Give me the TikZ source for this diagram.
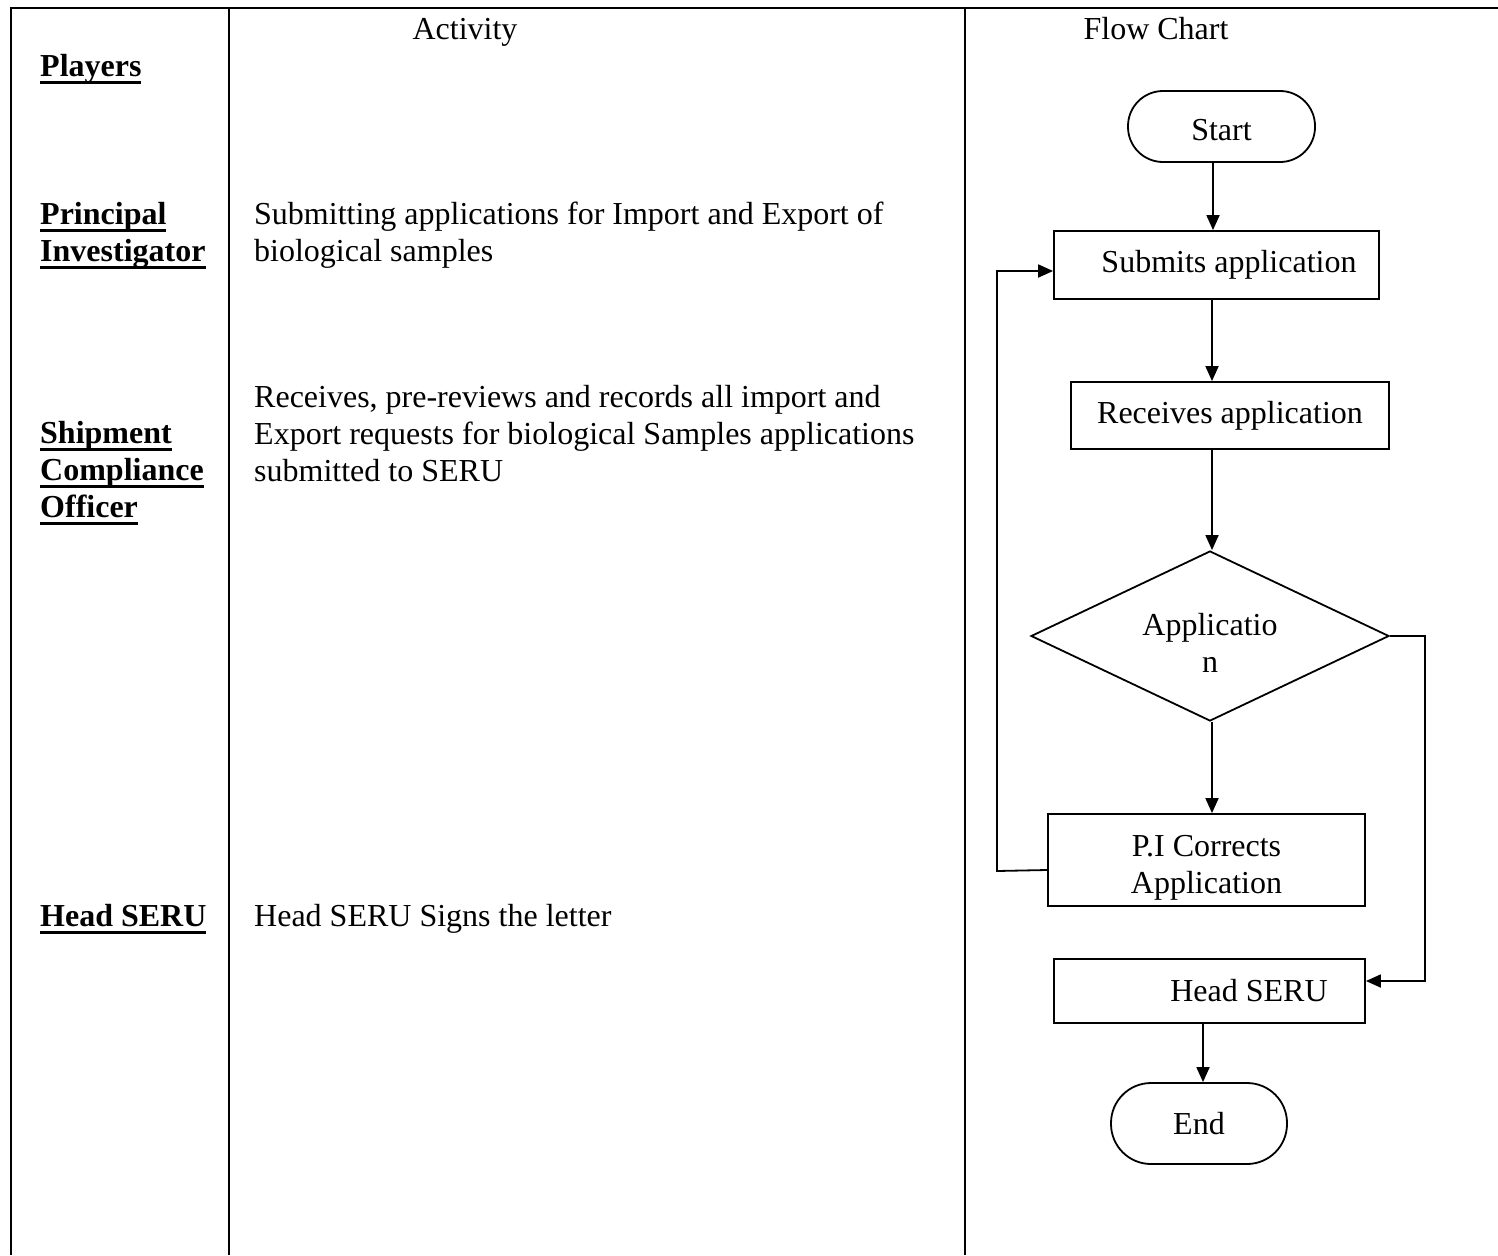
\documentclass[tikz,border=0pt]{standalone}
\usepackage{fontspec}
\setmainfont{Liberation Serif}
\usetikzlibrary{arrows.meta,shapes.geometric}
\newcommand\fsz{\fontsize{32}{37}\selectfont}
\newcommand\myul[1]{\sbox0{#1}\rlap{\rule[-8pt]{\wd0}{3pt}}\usebox0}
\newcommand\tallstrut[1]{\rule{0pt}{#1}}
\begin{document}
\begin{tikzpicture}[x=1pt,y=-1pt,
  grid/.style={line width=2.4pt},
  player/.style={anchor=base west,inner sep=0pt,align=left,font=\fsz\bfseries},
  act/.style={anchor=base west,inner sep=0pt,align=left,font=\fsz},
  hdr/.style={anchor=base,inner sep=0pt,font=\fsz},
  fl/.style={draw,line width=1.8pt,inner sep=0pt,font=\fsz,align=center},
  term/.style={fl,rounded corners=#1},
  arr/.style={line width=1.8pt,-{Triangle[length=15pt,width=13pt]}}]
\useasboundingbox (0,0) rectangle (1498,1255);
% table
\draw[grid] (1498,8) -- (11,8) -- (11,1255);
\draw[grid] (229,8) -- (229,1255);
\draw[grid] (965,8) -- (965,1255);
% headers
\node[hdr] (hact) at (465,40) {Activity};
\node[hdr] (hflow) at (1156,40) {Flow Chart};
% players (multi-line nodes are anchored at their last baseline)
\node[player] (pl) at (40,76) {\myul{Players}};
\node[player] (pinv) at (40,261) {\myul{Principal}\\\myul{Investigator}};
\node[player] (sco) at (40,517) {\myul{Shipment}\\\myul{Compliance}\\\myul{Officer}};
\node[player] (hs) at (40,926) {\myul{Head SERU}};
% activities
\node[act] (a1) at (254,261) {Submitting applications for Import and Export of\\biological samples};
\node[act] (a2) at (254,481) {Receives, pre-reviews and records all import and\\Export requests for biological Samples applications\\submitted to SERU};
\node[act] (a3) at (254,926) {Head SERU Signs the letter};
% flow chart
\node[term=35pt,minimum width=187pt,minimum height=71pt,text height=29pt] (start) at (1221.5,126.5) {Start};
\node[fl,minimum width=325pt,minimum height=68pt] (sub) at (1216.5,265) {\hspace*{25pt}Submits application};
\node[fl,minimum width=318pt,minimum height=67pt] (rec) at (1230,415.5) {Receives application};
\node[fl,diamond,aspect=2.1,minimum width=358pt,minimum height=170pt] (dec) at (1210,636) {\tallstrut{36pt}Applicatio\\n};
\node[fl,minimum width=317pt,minimum height=92pt] (pic) at (1206.5,860) {\tallstrut{36pt}P.I Corrects\\Application};
\node[fl,minimum width=311pt,minimum height=64pt] (head) at (1209.5,991) {\hspace*{79pt}Head SERU};
\node[term=40pt,minimum width=176pt,minimum height=81pt] (end) at (1199,1123.5) {End};
% spine coordinates
\coordinate (s1) at (1213,0);
\coordinate (s2) at (1212,0);
\coordinate (s3) at (1203,0);
\coordinate (lb) at (997,871);
\coordinate (lt) at (997,271);
\coordinate (rt) at (1425,636);
\coordinate (rb) at (1425,981);
% connectors
\draw[arr] (s1 |- start.south) -- (s1 |- sub.north);
\draw[arr] (s2 |- sub.south) -- (s2 |- rec.north);
\draw[arr] (s2 |- rec.south) -- (s2 |- dec.north);
\draw[arr] (s2 |- dec.south) -- (s2 |- pic.north);
\draw[arr] (s3 |- head.south) -- (s3 |- end.north);
\draw[arr] ([yshift=-10pt]pic.west) -- (lb) -- (lt) -- (lt -| sub.west);
\draw[arr] (dec.east) -- (rt) -- (rb) -- (rb -| head.east);
\end{tikzpicture}
\end{document}
